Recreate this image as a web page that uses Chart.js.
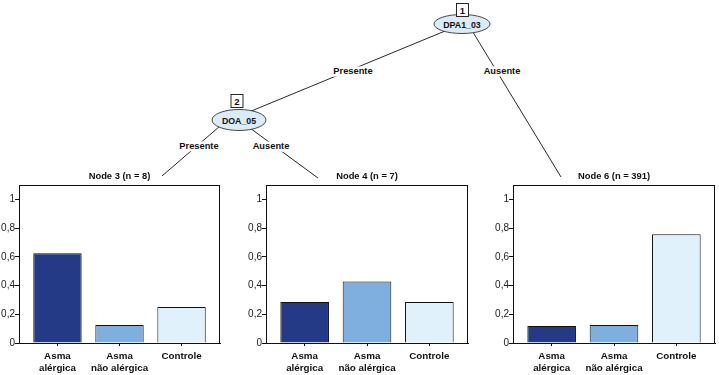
<!DOCTYPE html>
<html>
<head>
<meta charset="utf-8">
<script src="https://cdn.jsdelivr.net/npm/chart.js@4/dist/chart.umd.min.js"></script>
<style>
  html, body { margin: 0; padding: 0; background: #fff; }
  #wrap { position: relative; width: 719px; height: 375px; overflow: hidden; }
  #tree { position: absolute; left: 0; top: 0; }
  .panel { position: absolute; }
  svg text { font-family: "Liberation Sans", Arial, sans-serif; font-weight: bold; fill: #111; }
</style>
</head>
<body>
<div id="wrap">
  <svg id="tree" width="719" height="375"></svg>
  <canvas id="c3" class="panel"></canvas>
  <canvas id="c4" class="panel"></canvas>
  <canvas id="c6" class="panel"></canvas>
</div>
<script>
// dados dos nós terminais (proporções por classe)
const classes = [["Asma", "alérgica"], ["Asma", "não alérgica"], ["Controle"]];
const nodeTitles = ["Node 3 (n = 8)", "Node 4 (n = 7)", "Node 6 (n = 391)"];
const node3 = [0.625, 0.125, 0.25];
const node4 = [0.286, 0.429, 0.286];
const node6 = [0.118, 0.125, 0.757];
const yTicks = [0, 0.2, 0.4, 0.6, 0.8, 1];
const barColors = ["#243a86", "#7eafdf", "#e0f1fc"];

// nós internos da árvore
const splitVars = ["DPA1_03", "DOA_05"];
const splitIds = ["1", "2"];
const edgeLabels = ["Presente", "Ausente"];

const font = '"Liberation Sans", Arial, sans-serif';

// --- árvore (svg) ---
const svg = document.getElementById("tree");
const NS = "http://www.w3.org/2000/svg";
function el(tag, attrs, txt) {
  const e = document.createElementNS(NS, tag);
  for (const k in attrs) e.setAttribute(k, attrs[k]);
  if (txt !== undefined) e.textContent = txt;
  svg.appendChild(e);
  return e;
}

const edges = [
  [462, 24, 232, 119],
  [468, 24, 561, 177],
  [227, 120, 162, 176],
  [239, 120, 318, 178]
];
edges.forEach(e => el("line", { x1: e[0], y1: e[1], x2: e[2], y2: e[3], stroke: "#111", "stroke-width": 0.9 }));

const edgeText = [
  [353, 71, edgeLabels[0]], [502, 71, edgeLabels[1]],
  [199, 146, edgeLabels[0]], [271, 146, edgeLabels[1]]
];
edgeText.forEach(t => el("text", {
  x: t[0], y: t[1], "text-anchor": "middle", "dominant-baseline": "central",
  "font-size": 9.3, stroke: "#fff", "stroke-width": 5, "paint-order": "stroke"
}, t[2]));

const nodes = [
  { cx: 462, cy: 24, rx: 28, ry: 9.5, bx: 462.5, by: 10 },
  { cx: 239, cy: 120, rx: 27, ry: 10.5, bx: 237, by: 101 }
];
nodes.forEach((n, i) => {
  el("ellipse", { cx: n.cx, cy: n.cy, rx: n.rx, ry: n.ry, fill: "#dcebf8", stroke: "#333", "stroke-width": 0.9 });
  el("text", { x: n.cx, y: n.cy + 0.5, "text-anchor": "middle", "dominant-baseline": "central", "font-size": 8.8 }, splitVars[i]);
  el("rect", { x: n.bx - 6, y: n.by - 6.5, width: 12, height: 13, fill: "#fff", stroke: "#111", "stroke-width": 0.9 });
  el("text", { x: n.bx, y: n.by + 0.5, "text-anchor": "middle", "dominant-baseline": "central", "font-size": 9.5 }, splitIds[i]);
});

// --- painéis de barras ---
const panelFrame = {
  id: "panelFrame",
  afterDraw(chart, args, opts) {
    const a = chart.chartArea, ctx = chart.ctx;
    ctx.save();
    ctx.strokeStyle = "#111";
    ctx.lineWidth = 1;
    ctx.strokeRect(Math.round(a.left) + 0.5, Math.round(a.top) + 0.5, Math.round(a.right - a.left) - 1, Math.round(a.bottom - a.top));
    ctx.fillStyle = "#111";
    ctx.font = "bold 9.4px " + font;
    ctx.textAlign = "center";
    ctx.textBaseline = "middle";
    ctx.fillText(opts.text, (a.left + a.right) / 2, a.top - 9);
    ctx.restore();
  }
};

const panels = [
  { id: "c3", data: node3, left: 0, axis: 19, box: 201, right: 18 },
  { id: "c4", data: node4, left: 245, axis: 21, box: 202, right: 17 },
  { id: "c6", data: node6, left: 492, axis: 21, box: 202, right: 4 }
];
const top0 = 166, boxTop = 185, axisY = 343, H = 375;

panels.forEach((p, i) => {
  const cv = document.getElementById(p.id);
  cv.width = p.axis + p.box + p.right;
  cv.height = H - top0;
  cv.style.left = p.left + "px";
  cv.style.top = top0 + "px";

  new Chart(cv, {
    type: "bar",
    data: {
      datasets: [{
        data: p.data.map((v, k) => ({ x: k + 1, y: v })),
        backgroundColor: barColors,
        borderColor: "#111",
        borderWidth: 1,
        barPercentage: 0.78,
        categoryPercentage: 1
      }]
    },
    options: {
      responsive: false,
      animation: false,
      layout: { padding: { top: boxTop - top0, right: p.right, left: 0, bottom: 0 } },
      plugins: {
        legend: { display: false },
        tooltip: { enabled: false },
        panelFrame: { text: nodeTitles[i] }
      },
      scales: {
        x: {
          type: "linear",
          offset: false,
          min: 0.38,
          max: 3.62,
          afterBuildTicks: s => { s.ticks = [1, 2, 3].map(v => ({ value: v })); },
          afterFit: s => { s.height = H - axisY; },
          grid: { offset: false, drawOnChartArea: false, tickLength: 3, color: "#111" },
          border: { color: "#111" },
          ticks: {
            autoSkip: false, maxRotation: 0, padding: 5,
            color: "#111",
            font: { family: font, size: 9.8, weight: "bold", lineHeight: 1.15 },
            callback: v => classes[v - 1]
          }
        },
        y: {
          min: 0,
          max: 1.1,
          afterBuildTicks: s => { s.ticks = yTicks.map(v => ({ value: v })); },
          afterFit: s => { s.width = p.axis; },
          grid: { drawOnChartArea: false, tickLength: 4, color: "#111" },
          border: { color: "#111" },
          ticks: {
            padding: 0,
            color: "#222",
            font: { family: font, size: 10 },
            callback: v => (v === 0 || v === 1) ? String(v) : v.toFixed(1).replace(".", ",")
          }
        }
      }
    },
    plugins: [panelFrame]
  });
});
</script>
</body>
</html>
